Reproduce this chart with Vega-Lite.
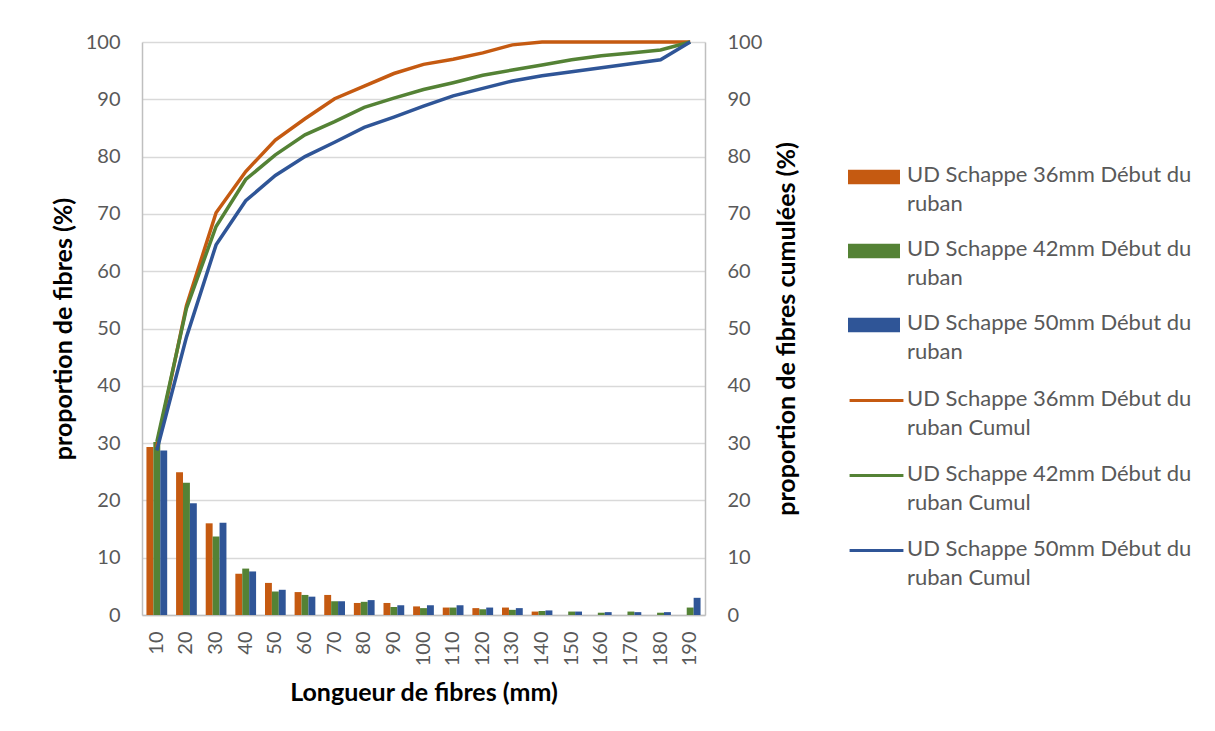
{
  "$schema": "https://vega.github.io/schema/vega-lite/v6.json",
  "autosize": {"type": "none"},
  "width": 563,
  "height": 573,
  "padding": {"left": 142, "top": 42, "right": 510, "bottom": 116},
  "background": "white",
  "config": {
    "view": {"stroke": null},
    "font": "Lato",
    "axis": {
      "labelFont": "Lato",
      "labelFontSize": 20,
      "labelColor": "#595959",
      "titleFont": "Lato",
      "titleFontSize": 25,
      "titleFontWeight": "bold",
      "titleColor": "#000000",
      "domainColor": "#BFBFBF",
      "domainWidth": 1.5,
      "gridColor": "#D9D9D9",
      "gridWidth": 1.5,
      "ticks": false
    },
    "legend": {
      "labelFont": "Lato",
      "labelFontSize": 22,
      "labelColor": "#595959",
      "labelLimit": 400,
      "padding": 0,
      "title": null
    }
  },
  "datasets": {
    "bars": [
      {"len": "10", "serie": "UD Schappe 36mm Début du ruban", "pct": 29.3},
      {"len": "10", "serie": "UD Schappe 42mm Début du ruban", "pct": 30.2},
      {"len": "10", "serie": "UD Schappe 50mm Début du ruban", "pct": 28.7},
      {"len": "20", "serie": "UD Schappe 36mm Début du ruban", "pct": 24.9},
      {"len": "20", "serie": "UD Schappe 42mm Début du ruban", "pct": 23.1},
      {"len": "20", "serie": "UD Schappe 50mm Début du ruban", "pct": 19.5},
      {"len": "30", "serie": "UD Schappe 36mm Début du ruban", "pct": 16.0},
      {"len": "30", "serie": "UD Schappe 42mm Début du ruban", "pct": 13.7},
      {"len": "30", "serie": "UD Schappe 50mm Début du ruban", "pct": 16.1},
      {"len": "40", "serie": "UD Schappe 36mm Début du ruban", "pct": 7.2},
      {"len": "40", "serie": "UD Schappe 42mm Début du ruban", "pct": 8.1},
      {"len": "40", "serie": "UD Schappe 50mm Début du ruban", "pct": 7.6},
      {"len": "50", "serie": "UD Schappe 36mm Début du ruban", "pct": 5.6},
      {"len": "50", "serie": "UD Schappe 42mm Début du ruban", "pct": 4.1},
      {"len": "50", "serie": "UD Schappe 50mm Début du ruban", "pct": 4.4},
      {"len": "60", "serie": "UD Schappe 36mm Début du ruban", "pct": 4.0},
      {"len": "60", "serie": "UD Schappe 42mm Début du ruban", "pct": 3.5},
      {"len": "60", "serie": "UD Schappe 50mm Début du ruban", "pct": 3.2},
      {"len": "70", "serie": "UD Schappe 36mm Début du ruban", "pct": 3.5},
      {"len": "70", "serie": "UD Schappe 42mm Début du ruban", "pct": 2.4},
      {"len": "70", "serie": "UD Schappe 50mm Début du ruban", "pct": 2.4},
      {"len": "80", "serie": "UD Schappe 36mm Début du ruban", "pct": 2.1},
      {"len": "80", "serie": "UD Schappe 42mm Début du ruban", "pct": 2.3},
      {"len": "80", "serie": "UD Schappe 50mm Début du ruban", "pct": 2.6},
      {"len": "90", "serie": "UD Schappe 36mm Début du ruban", "pct": 2.1},
      {"len": "90", "serie": "UD Schappe 42mm Début du ruban", "pct": 1.4},
      {"len": "90", "serie": "UD Schappe 50mm Début du ruban", "pct": 1.7},
      {"len": "100", "serie": "UD Schappe 36mm Début du ruban", "pct": 1.5},
      {"len": "100", "serie": "UD Schappe 42mm Début du ruban", "pct": 1.2},
      {"len": "100", "serie": "UD Schappe 50mm Début du ruban", "pct": 1.7},
      {"len": "110", "serie": "UD Schappe 36mm Début du ruban", "pct": 1.3},
      {"len": "110", "serie": "UD Schappe 42mm Début du ruban", "pct": 1.3},
      {"len": "110", "serie": "UD Schappe 50mm Début du ruban", "pct": 1.7},
      {"len": "120", "serie": "UD Schappe 36mm Début du ruban", "pct": 1.2},
      {"len": "120", "serie": "UD Schappe 42mm Début du ruban", "pct": 1.0},
      {"len": "120", "serie": "UD Schappe 50mm Début du ruban", "pct": 1.3},
      {"len": "130", "serie": "UD Schappe 36mm Début du ruban", "pct": 1.3},
      {"len": "130", "serie": "UD Schappe 42mm Début du ruban", "pct": 0.9},
      {"len": "130", "serie": "UD Schappe 50mm Début du ruban", "pct": 1.2},
      {"len": "140", "serie": "UD Schappe 36mm Début du ruban", "pct": 0.6},
      {"len": "140", "serie": "UD Schappe 42mm Début du ruban", "pct": 0.7},
      {"len": "140", "serie": "UD Schappe 50mm Début du ruban", "pct": 0.8},
      {"len": "150", "serie": "UD Schappe 36mm Début du ruban", "pct": 0},
      {"len": "150", "serie": "UD Schappe 42mm Début du ruban", "pct": 0.6},
      {"len": "150", "serie": "UD Schappe 50mm Début du ruban", "pct": 0.6},
      {"len": "160", "serie": "UD Schappe 36mm Début du ruban", "pct": 0},
      {"len": "160", "serie": "UD Schappe 42mm Début du ruban", "pct": 0.4},
      {"len": "160", "serie": "UD Schappe 50mm Début du ruban", "pct": 0.5},
      {"len": "170", "serie": "UD Schappe 36mm Début du ruban", "pct": 0},
      {"len": "170", "serie": "UD Schappe 42mm Début du ruban", "pct": 0.6},
      {"len": "170", "serie": "UD Schappe 50mm Début du ruban", "pct": 0.5},
      {"len": "180", "serie": "UD Schappe 36mm Début du ruban", "pct": 0},
      {"len": "180", "serie": "UD Schappe 42mm Début du ruban", "pct": 0.4},
      {"len": "180", "serie": "UD Schappe 50mm Début du ruban", "pct": 0.5},
      {"len": "190", "serie": "UD Schappe 36mm Début du ruban", "pct": 0},
      {"len": "190", "serie": "UD Schappe 42mm Début du ruban", "pct": 1.3},
      {"len": "190", "serie": "UD Schappe 50mm Début du ruban", "pct": 3.0}
    ],
    "cumul": [
      {"len": "10", "serie": "UD Schappe 36mm Début du ruban Cumul", "cum": 29.3},
      {"len": "20", "serie": "UD Schappe 36mm Début du ruban Cumul", "cum": 54.0},
      {"len": "30", "serie": "UD Schappe 36mm Début du ruban Cumul", "cum": 70.2},
      {"len": "40", "serie": "UD Schappe 36mm Début du ruban Cumul", "cum": 77.4},
      {"len": "50", "serie": "UD Schappe 36mm Début du ruban Cumul", "cum": 82.9},
      {"len": "60", "serie": "UD Schappe 36mm Début du ruban Cumul", "cum": 86.6},
      {"len": "70", "serie": "UD Schappe 36mm Début du ruban Cumul", "cum": 90.1},
      {"len": "80", "serie": "UD Schappe 36mm Début du ruban Cumul", "cum": 92.3},
      {"len": "90", "serie": "UD Schappe 36mm Début du ruban Cumul", "cum": 94.5},
      {"len": "100", "serie": "UD Schappe 36mm Début du ruban Cumul", "cum": 96.1},
      {"len": "110", "serie": "UD Schappe 36mm Début du ruban Cumul", "cum": 97.0},
      {"len": "120", "serie": "UD Schappe 36mm Début du ruban Cumul", "cum": 98.1},
      {"len": "130", "serie": "UD Schappe 36mm Début du ruban Cumul", "cum": 99.5},
      {"len": "140", "serie": "UD Schappe 36mm Début du ruban Cumul", "cum": 100},
      {"len": "150", "serie": "UD Schappe 36mm Début du ruban Cumul", "cum": 100},
      {"len": "160", "serie": "UD Schappe 36mm Début du ruban Cumul", "cum": 100},
      {"len": "170", "serie": "UD Schappe 36mm Début du ruban Cumul", "cum": 100},
      {"len": "180", "serie": "UD Schappe 36mm Début du ruban Cumul", "cum": 100},
      {"len": "190", "serie": "UD Schappe 36mm Début du ruban Cumul", "cum": 100},
      {"len": "10", "serie": "UD Schappe 42mm Début du ruban Cumul", "cum": 30.2},
      {"len": "20", "serie": "UD Schappe 42mm Début du ruban Cumul", "cum": 53.5},
      {"len": "30", "serie": "UD Schappe 42mm Début du ruban Cumul", "cum": 67.8},
      {"len": "40", "serie": "UD Schappe 42mm Début du ruban Cumul", "cum": 76.0},
      {"len": "50", "serie": "UD Schappe 42mm Début du ruban Cumul", "cum": 80.3},
      {"len": "60", "serie": "UD Schappe 42mm Début du ruban Cumul", "cum": 83.8},
      {"len": "70", "serie": "UD Schappe 42mm Début du ruban Cumul", "cum": 86.1},
      {"len": "80", "serie": "UD Schappe 42mm Début du ruban Cumul", "cum": 88.6},
      {"len": "90", "serie": "UD Schappe 42mm Début du ruban Cumul", "cum": 90.2},
      {"len": "100", "serie": "UD Schappe 42mm Début du ruban Cumul", "cum": 91.7},
      {"len": "110", "serie": "UD Schappe 42mm Début du ruban Cumul", "cum": 92.9},
      {"len": "120", "serie": "UD Schappe 42mm Début du ruban Cumul", "cum": 94.2},
      {"len": "130", "serie": "UD Schappe 42mm Début du ruban Cumul", "cum": 95.1},
      {"len": "140", "serie": "UD Schappe 42mm Début du ruban Cumul", "cum": 96.0},
      {"len": "150", "serie": "UD Schappe 42mm Début du ruban Cumul", "cum": 96.9},
      {"len": "160", "serie": "UD Schappe 42mm Début du ruban Cumul", "cum": 97.6},
      {"len": "170", "serie": "UD Schappe 42mm Début du ruban Cumul", "cum": 98.1},
      {"len": "180", "serie": "UD Schappe 42mm Début du ruban Cumul", "cum": 98.6},
      {"len": "190", "serie": "UD Schappe 42mm Début du ruban Cumul", "cum": 100},
      {"len": "10", "serie": "UD Schappe 50mm Début du ruban Cumul", "cum": 28.7},
      {"len": "20", "serie": "UD Schappe 50mm Début du ruban Cumul", "cum": 48.5},
      {"len": "30", "serie": "UD Schappe 50mm Début du ruban Cumul", "cum": 64.6},
      {"len": "40", "serie": "UD Schappe 50mm Début du ruban Cumul", "cum": 72.3},
      {"len": "50", "serie": "UD Schappe 50mm Début du ruban Cumul", "cum": 76.7},
      {"len": "60", "serie": "UD Schappe 50mm Début du ruban Cumul", "cum": 80.0},
      {"len": "70", "serie": "UD Schappe 50mm Début du ruban Cumul", "cum": 82.5},
      {"len": "80", "serie": "UD Schappe 50mm Début du ruban Cumul", "cum": 85.1},
      {"len": "90", "serie": "UD Schappe 50mm Début du ruban Cumul", "cum": 86.9},
      {"len": "100", "serie": "UD Schappe 50mm Début du ruban Cumul", "cum": 88.8},
      {"len": "110", "serie": "UD Schappe 50mm Début du ruban Cumul", "cum": 90.6},
      {"len": "120", "serie": "UD Schappe 50mm Début du ruban Cumul", "cum": 91.9},
      {"len": "130", "serie": "UD Schappe 50mm Début du ruban Cumul", "cum": 93.2},
      {"len": "140", "serie": "UD Schappe 50mm Début du ruban Cumul", "cum": 94.1},
      {"len": "150", "serie": "UD Schappe 50mm Début du ruban Cumul", "cum": 94.8},
      {"len": "160", "serie": "UD Schappe 50mm Début du ruban Cumul", "cum": 95.5},
      {"len": "170", "serie": "UD Schappe 50mm Début du ruban Cumul", "cum": 96.2},
      {"len": "180", "serie": "UD Schappe 50mm Début du ruban Cumul", "cum": 96.9},
      {"len": "190", "serie": "UD Schappe 50mm Début du ruban Cumul", "cum": 100}
    ]
  },
  "layer": [
    {
      "data": {"name": "bars"},
      "mark": {"type": "bar"},
      "encoding": {
        "x": {
          "field": "len", "type": "ordinal", "sort": null,
          "scale": {"paddingInner": 0.3, "paddingOuter": 0.15},
          "axis": {
            "title": "Longueur de fibres (mm)",
            "labelAngle": -90,
            "labelPadding": 16,
            "titlePadding": 15,
            "domain": true
          }
        },
        "xOffset": {"field": "serie", "type": "nominal", "sort": null, "scale": {"paddingInner": 0, "paddingOuter": 0}},
        "y": {
          "field": "pct", "type": "quantitative",
          "scale": {"domain": [0, 100], "nice": false},
          "axis": {
            "title": "proportion de fibres (%)",
            "values": [0, 10, 20, 30, 40, 50, 60, 70, 80, 90, 100],
            "labelPadding": 22,
            "titlePadding": 9,
            "grid": true
          }
        },
        "fill": {
          "field": "serie", "type": "nominal", "sort": null,
          "scale": {"range": ["#C55A11", "#548235", "#2F5597"]},
          "legend": {
            "orient": "none",
            "legendX": 706,
            "legendY": 109,
            "symbolType": "M-1,-0.28L1,-0.28L1,0.28L-1,0.28Z",
            "symbolSize": 2704,
            "symbolStrokeWidth": 0,
            "labelOffset": 7,
            "rowPadding": 10,
            "labelBaseline": "top",
            "labelExpr": "[substring(datum.label, 0, 24), substring(datum.label, 25)]",
            "encode": {"labels": {"update": {"lineHeight": {"value": 29}, "dy": {"value": -12}}}}
          }
        }
      }
    },
    {
      "data": {"name": "cumul"},
      "mark": {"type": "line", "strokeWidth": 3.5},
      "encoding": {
        "x": {"field": "len", "type": "ordinal", "sort": null},
        "y": {
          "field": "cum", "type": "quantitative",
          "scale": {"domain": [0, 100], "nice": false},
          "axis": {
            "orient": "right",
            "title": "proportion de fibres cumulées (%)",
            "titleAngle": -90,
            "values": [0, 10, 20, 30, 40, 50, 60, 70, 80, 90, 100],
            "labelPadding": 22,
            "titlePadding": 38,
            "grid": false
          }
        },
        "stroke": {
          "field": "serie", "type": "nominal", "sort": null,
          "scale": {"range": ["#C55A11", "#548235", "#2F5597"]},
          "legend": {
            "orient": "none",
            "legendX": 706,
            "legendY": 330,
            "symbolType": "stroke",
            "symbolSize": 2900,
            "symbolStrokeWidth": 3,
            "labelOffset": 2,
            "rowPadding": 8,
            "labelBaseline": "top",
            "labelExpr": "[substring(datum.label, 0, 24), substring(datum.label, 25)]",
            "encode": {"labels": {"update": {"lineHeight": {"value": 29}, "dy": {"value": -12}}}}
          }
        }
      }
    }
  ],
  "resolve": {"scale": {"y": "independent"}}
}
